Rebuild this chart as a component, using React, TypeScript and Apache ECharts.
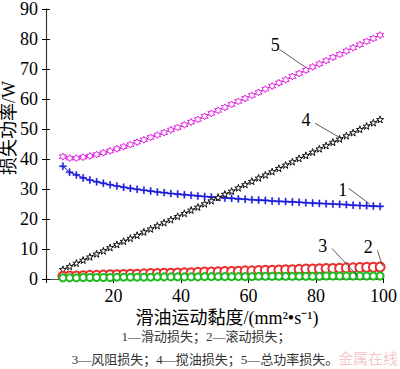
import React, { useEffect, useRef } from "react";
import * as echarts from "echarts";

const xs = [5, 7, 9, 11, 13, 15, 17, 19, 21, 23, 25, 27, 29, 31, 33, 35, 37, 39, 41, 43, 45, 47, 49, 51, 53, 55, 57, 59, 61, 63, 65, 67, 69, 71, 73, 75, 77, 79, 81, 83, 85, 87, 89, 91, 93, 95, 97, 99];

const sliding = [37.6, 35.6, 34.7, 33.7, 33.0, 32.4, 31.9, 31.4, 31.0, 30.6, 30.2, 29.9, 29.6, 29.3, 29.0, 28.8, 28.5, 28.3, 28.1, 27.9, 27.7, 27.5, 27.3, 27.2, 27.0, 26.9, 26.7, 26.6, 26.4, 26.3, 26.2, 26.0, 25.9, 25.8, 25.7, 25.6, 25.4, 25.3, 25.2, 25.1, 25.0, 24.9, 24.8, 24.6, 24.5, 24.4, 24.3, 24.2];

const rolling = [0.9, 1.0, 1.0, 1.1, 1.2, 1.2, 1.3, 1.4, 1.4, 1.5, 1.6, 1.6, 1.7, 1.8, 1.8, 1.9, 1.9, 2.0, 2.1, 2.1, 2.2, 2.3, 2.3, 2.4, 2.5, 2.5, 2.6, 2.7, 2.7, 2.8, 2.9, 2.9, 3.0, 3.1, 3.1, 3.2, 3.3, 3.3, 3.4, 3.5, 3.5, 3.6, 3.7, 3.7, 3.8, 3.9, 3.9, 4.0];

const windage = [0.4, 0.4, 0.4, 0.5, 0.5, 0.5, 0.5, 0.5, 0.6, 0.6, 0.6, 0.6, 0.6, 0.6, 0.7, 0.7, 0.7, 0.7, 0.7, 0.7, 0.7, 0.8, 0.8, 0.8, 0.8, 0.8, 0.8, 0.8, 0.8, 0.9, 0.9, 0.9, 0.9, 0.9, 0.9, 0.9, 0.9, 0.9, 0.9, 1.0, 1.0, 1.0, 1.0, 1.0, 1.0, 1.0, 1.0, 1.0];

const churning = [3.2, 4.2, 5.3, 6.3, 7.4, 8.4, 9.4, 10.5, 11.5, 12.6, 13.6, 14.6, 15.7, 16.7, 17.8, 18.8, 19.8, 20.9, 21.9, 23.0, 24.0, 25.1, 26.1, 27.2, 28.3, 29.3, 30.4, 31.5, 32.6, 33.7, 34.7, 35.8, 36.9, 38.0, 39.1, 40.2, 41.2, 42.3, 43.4, 44.5, 45.6, 46.7, 47.8, 48.8, 49.9, 51.0, 52.1, 53.2];

const total = [40.8, 40.3, 40.3, 40.6, 41.0, 41.5, 42.1, 42.7, 43.4, 44.1, 44.8, 45.6, 46.4, 47.2, 48.0, 48.8, 49.7, 50.5, 51.4, 52.3, 53.2, 54.2, 55.2, 56.2, 57.2, 58.2, 59.2, 60.2, 61.2, 62.2, 63.3, 64.3, 65.4, 66.4, 67.5, 68.5, 69.6, 70.7, 71.7, 72.8, 73.9, 74.9, 76.0, 77.1, 78.1, 79.2, 80.2, 81.3];

const yTicks = [0, 10, 20, 30, 40, 50, 60, 70, 80, 90];
const xTicks = [0, 20, 40, 60, 80, 100];

// annotation: label text, label position, leader line start and end (data coords)
const annLabels = ["5", "4", "1", "3", "2"];
const annText = [[67.9, 77.9], [77.0, 52.9], [87.9, 29.6], [82.0, 10.9], [95.5, 10.6]];
const annFrom = [[69.1, 76.6], [79.7, 51.9], [89.7, 30.2], [84.7, 10.2], [98.2, 9.5]];
const annTo = [[76.8, 70.6], [87.9, 46.6], [95.9, 25.0], [92.6, 0.7], [99.7, 4.3]];

const SERIF = "'Liberation Serif', 'Times New Roman', 'Noto Sans CJK SC', serif";
const CJK = "'Liberation Serif', 'Noto Sans CJK SC', serif";

const STAR = "path://M50,0 L61,35 L98,35 L68,57 L79,91 L50,70 L21,91 L32,57 L2,35 L39,35 Z";
const HEX = "path://M50,0 L63,25 L93,25 L77,50 L93,75 L63,75 L50,100 L37,75 L7,75 L23,50 L7,25 L37,25 Z";
const PLUS = "path://M42,0 L58,0 L58,42 L100,42 L100,58 L58,58 L58,100 L42,100 L42,58 L0,58 L0,42 L42,42 Z";

function pairs(vals: number[]) {
  return xs.map((x, i) => [x, vals[i]]);
}

export default function App() {
  const ref = useRef<HTMLDivElement>(null);
  useEffect(() => {
    if (!ref.current) return;
    const chart = echarts.init(ref.current, null, { renderer: "svg" });
    const axisCommon = {
      type: "value" as const,
      splitLine: { show: false },
      axisTick: { show: true, inside: true, length: 4, lineStyle: { color: "#000" } },
    };
    chart.setOption({
      animation: false,
      backgroundColor: "#fff",
      grid: { left: 46, top: 5, width: 340, height: 274, containLabel: false },
      xAxis: [
        {
          ...axisCommon,
          position: "bottom",
          min: xTicks[0],
          max: xTicks[xTicks.length - 1],
          interval: 20,
          axisLine: { show: true, lineStyle: { color: "#000", width: 1 } },
          axisLabel: {
            show: true,
            margin: 8,
            fontSize: 18,
            color: "#000",
            fontFamily: SERIF,
            formatter: (v: number) => (v === 0 ? "" : String(v)),
          },
        },
        {
          ...axisCommon,
          position: "top",
          min: xTicks[0],
          max: xTicks[xTicks.length - 1],
          interval: 20,
          axisLine: { show: true, lineStyle: { color: "#555", width: 1 } },
          axisLabel: { show: false },
        },
      ],
      yAxis: [
        {
          ...axisCommon,
          position: "left",
          min: yTicks[0],
          max: yTicks[yTicks.length - 1],
          interval: 10,
          axisLine: { show: true, lineStyle: { color: "#666", width: 1.2 } },
          axisLabel: { show: true, margin: 8, fontSize: 18, color: "#000", fontFamily: SERIF },
        },
        {
          ...axisCommon,
          position: "right",
          min: yTicks[0],
          max: yTicks[yTicks.length - 1],
          interval: 10,
          axisLine: { show: true, lineStyle: { color: "#333", width: 1 } },
          axisLabel: { show: false },
        },
      ],
      series: [
        {
          name: "5",
          type: "line",
          data: pairs(total),
          symbol: HEX,
          symbolSize: 7,
          lineStyle: { color: "#e020e0", width: 1 },
          itemStyle: { color: "#fff", borderColor: "#e020e0", borderWidth: 1 },
          z: 2,
        },
        {
          name: "1",
          type: "line",
          data: pairs(sliding),
          symbol: PLUS,
          symbolSize: 7,
          lineStyle: { color: "#1a1ad8", width: 1 },
          itemStyle: { color: "#1a1ad8", borderColor: "#1a1ad8", borderWidth: 0.5 },
          z: 3,
        },
        {
          name: "4",
          type: "line",
          data: pairs(churning),
          symbol: STAR,
          symbolSize: 7,
          lineStyle: { color: "#111", width: 1 },
          itemStyle: { color: "#fff", borderColor: "#111", borderWidth: 1 },
          z: 4,
        },
        {
          name: "2",
          type: "line",
          data: pairs(rolling),
          symbol: "emptyCircle",
          symbolSize: 9,
          lineStyle: { color: "#e83030", width: 1 },
          itemStyle: { color: "#e83030", borderColor: "#e83030", borderWidth: 1 },
          z: 5,
        },
        {
          name: "3",
          type: "line",
          data: pairs(windage),
          symbol: "emptyCircle",
          symbolSize: 7,
          lineStyle: { color: "#22bb22", width: 1 },
          itemStyle: { color: "#22bb22", borderColor: "#33cc33", borderWidth: 1 },
          z: 6,
        },
      ],
    });

    const toPx = (p: number[]) => chart.convertToPixel({ gridIndex: 0 }, p) as number[];
    const ann: any[] = [];
    annLabels.forEach((lab, i) => {
      const t = toPx(annText[i]);
      const a = toPx(annFrom[i]);
      const b = toPx(annTo[i]);
      ann.push({
        type: "text",
        x: t[0],
        y: t[1],
        style: { text: lab, font: `18px ${SERIF}`, fill: "#000", align: "center", verticalAlign: "middle" },
        z: 10,
      });
      ann.push({
        type: "line",
        shape: { x1: a[0], y1: a[1], x2: b[0], y2: b[1] },
        style: { stroke: "#333", lineWidth: 0.8 },
        z: 10,
      });
    });

    chart.setOption({
      graphic: [
        ...ann,
        {
          type: "text",
          x: 9,
          y: 128,
          rotation: Math.PI / 2,
          style: { text: "损失功率/W", font: `18px ${CJK}`, fill: "#000", align: "center", verticalAlign: "middle" },
        },
        {
          type: "text",
          x: 227,
          y: 318,
          style: { text: "滑油运动黏度/(mm²•s⁻¹)", font: `18px ${CJK}`, fill: "#000", align: "center", verticalAlign: "middle" },
        },
        {
          type: "text",
          x: 206,
          y: 336,
          style: { text: "1—滑动损失；2—滚动损失；", font: `13px ${CJK}`, fill: "#333", align: "center", verticalAlign: "middle" },
        },
        {
          type: "text",
          x: 205,
          y: 359,
          style: { text: "3—风阻损失；4—搅油损失；5—总功率损失。", font: `13px ${CJK}`, fill: "#333", align: "center", verticalAlign: "middle" },
        },
        {
          type: "text",
          x: 398,
          y: 359,
          style: { text: "金属在线", font: `15px ${CJK}`, fill: "rgba(220,90,90,0.35)", align: "right", verticalAlign: "middle" },
        },
      ],
    });

    return () => chart.dispose();
  }, []);
  return (
    <div
      ref={ref}
      style={{ position: "absolute", left: 0, top: 0, width: 400, height: 369, background: "#fff" }}
    />
  );
}
